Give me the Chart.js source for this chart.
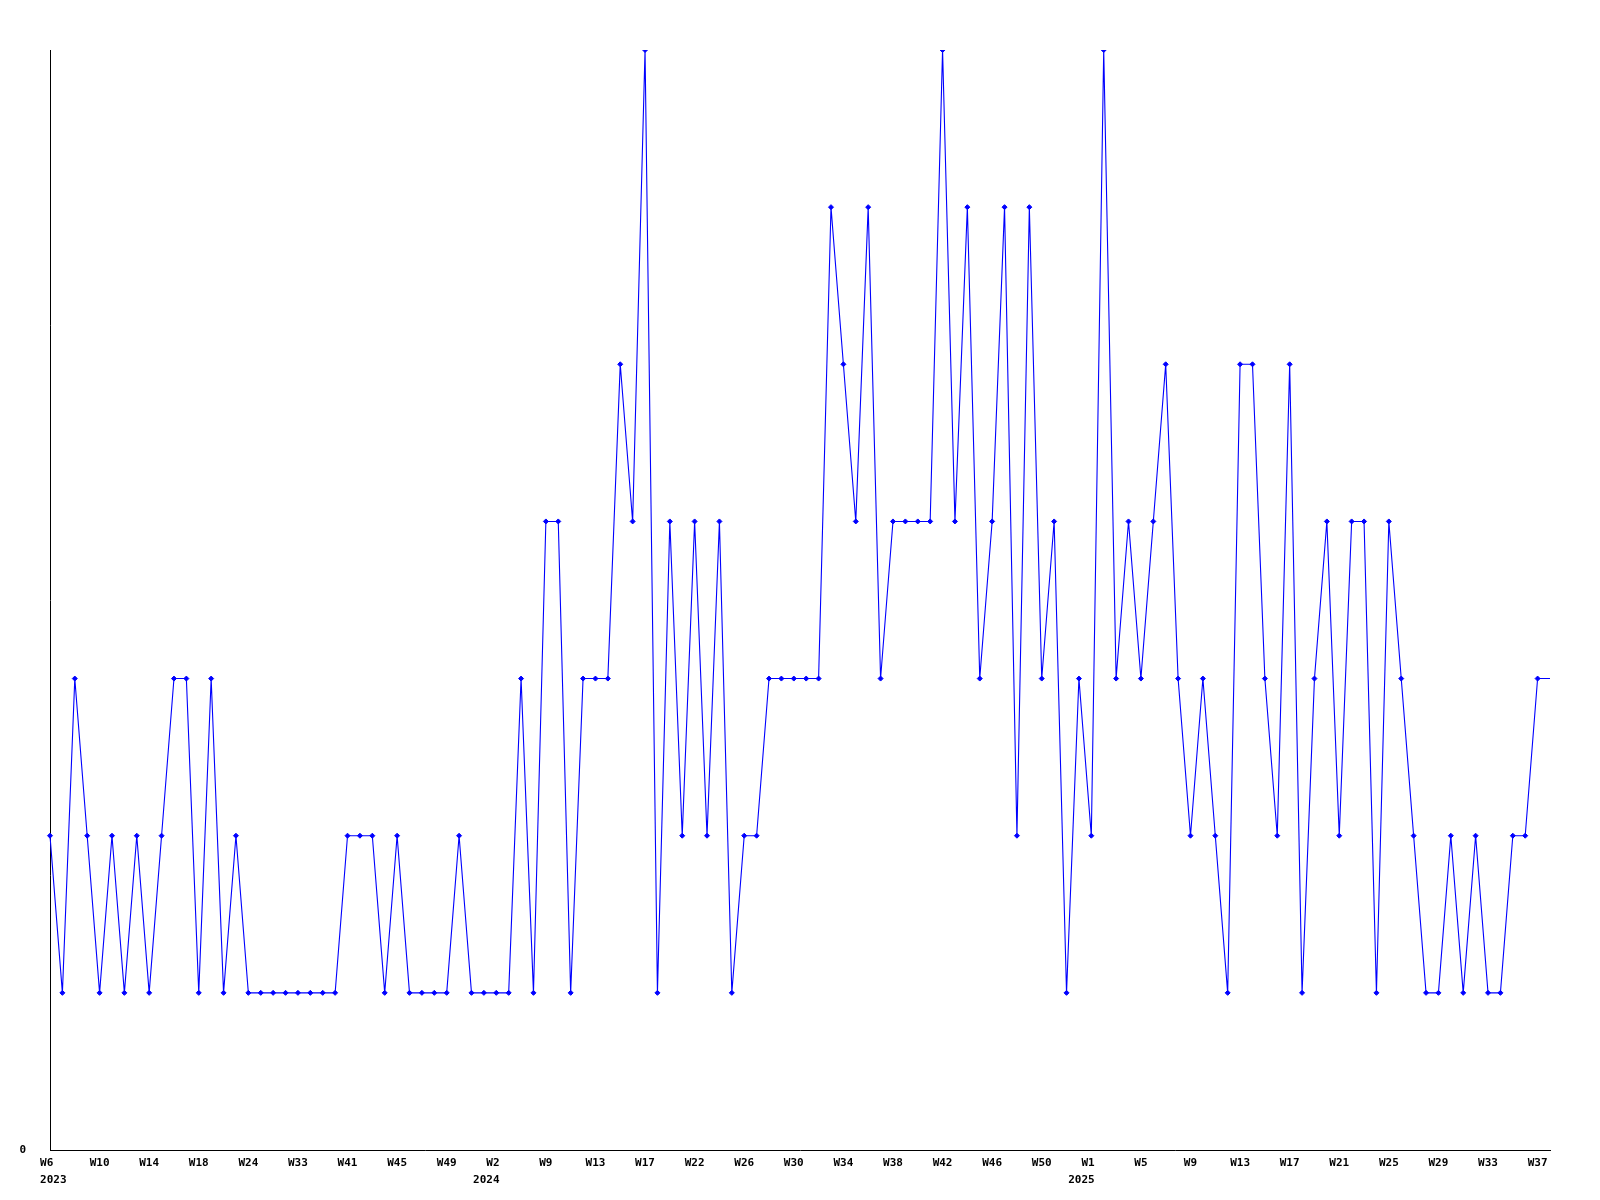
<!DOCTYPE html>
<html>
<head>
<meta charset="utf-8">
<script src="https://cdn.jsdelivr.net/npm/chart.js@4.4.1/dist/chart.umd.min.js"></script>
<style>
  html, body { margin: 0; padding: 0; background: #fff; }
  #wrap { width: 1600px; height: 1200px; }
</style>
</head>
<body>
<div id="wrap"><canvas id="weekChart" width="1600" height="1200"></canvas></div>
<script>
  // ── Data ──
  // one label every 4 points
  var weekTicks = ['W6','W10','W14','W18','W24','W33','W41','W45','W49','W2','W9',
                   'W13','W17','W22','W26','W30','W34','W38','W42','W46','W50','W1',
                   'W5','W9','W13','W17','W21','W25','W29','W33','W37'];
  var yearTicks = ['2023','','','','','','','','','2024','',
                   '','','','','','','','','','','2025',
                   '','','','','','','','',''];

  var counts = [2,1,3,2,1,2,1,2,1,2,
                3,3,1,3,1,2,1,1,1,1,
                1,1,1,1,2,2,2,1,2,1,
                1,1,1,2,1,1,1,1,3,1,
                4,4,1,3,3,3,5,4,7,1,
                4,2,4,2,4,1,2,2,3,3,
                3,3,3,6,5,4,6,3,4,4,
                4,4,7,4,6,3,4,6,2,6,
                3,4,1,3,2,7,3,4,3,4,
                5,3,2,3,2,1,5,5,3,2,
                5,1,3,4,2,4,4,1,4,3,
                2,1,1,2,1,2,1,1,2,2,
                3,3];

  // Build x labels: week (+ year) on every 4th point, blank elsewhere.
  // The first year sits under its week left-aligned, the later ones right-aligned.
  var labels = [];
  for (var i = 0; i < counts.length; i++) {
    var k = i / 4;
    if (i % 4 === 0 && weekTicks[k]) {
      var t = weekTicks[k], y = yearTicks[k];
      if (!y) labels.push(t);
      else if (k === 0) labels.push([' ' + t + '  ', ' ' + y]);
      else labels.push(['  ' + t + '   ', y + '   ']);
    } else {
      labels.push('');
    }
  }

  // last point sits on the right edge, no marker there
  var radii = counts.map(function(v, i) { return i === counts.length - 1 ? 0 : 2.5; });

  var tickFont = { family: 'DejaVu Sans Mono', size: 11, weight: 'bold', lineHeight: 1.5 };

  var ctx = document.getElementById('weekChart').getContext('2d');
  new Chart(ctx, {
    type: 'line',
    data: {
      labels: labels,
      datasets: [{
        data: counts,
        borderColor: '#0000ff',
        backgroundColor: '#0000ff',
        borderWidth: 1.1,
        pointStyle: 'rectRot',
        pointRadius: radii,
        pointBorderWidth: 1,
        pointBorderColor: '#0000ff',
        pointBackgroundColor: '#0000ff',
        tension: 0,
        fill: false
      }]
    },
    options: {
      responsive: false,
      animation: false,
      devicePixelRatio: 1,
      layout: { padding: { top: 50, right: 50, left: 0, bottom: 0 } },
      plugins: {
        legend: { display: false },
        tooltip: { enabled: false }
      },
      scales: {
        x: {
          type: 'category',
          offset: false,
          grid: { display: false, drawTicks: false },
          border: { display: true, color: '#000', width: 1 },
          ticks: {
            autoSkip: false,
            maxRotation: 0,
            minRotation: 0,
            padding: 5,
            color: '#000',
            font: tickFont
          },
          afterFit: function(s) { s.height = 50; }
        },
        y: {
          min: 0,
          max: 7,
          grid: { display: false, drawTicks: false },
          border: { display: true, color: '#000', width: 1 },
          ticks: {
            stepSize: 7,
            padding: 24,
            color: '#000',
            font: tickFont,
            callback: function(v) { return v === 0 ? '0' : ''; }
          },
          afterFit: function(s) { s.width = 50; }
        }
      }
    }
  });
</script>
</body>
</html>
